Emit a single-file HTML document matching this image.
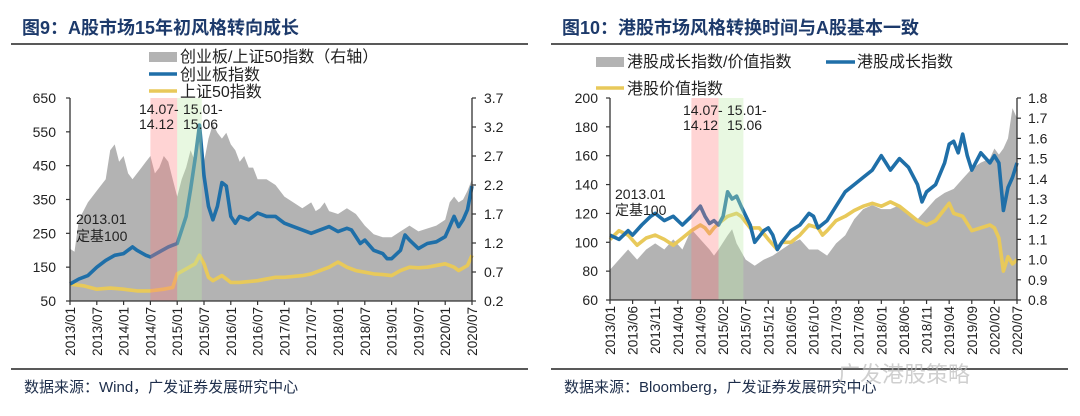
<!DOCTYPE html>
<html><head><meta charset="utf-8">
<style>
html,body{margin:0;padding:0;background:#fff;}
svg{display:block;font-family:"Liberation Sans","Noto Sans CJK SC",sans-serif;}
</style></head>
<body>
<svg id="root" width="1080" height="416" viewBox="0 0 1080 416">
  <text x="22" y="34" font-size="18" font-weight="bold" fill="#1d3a6b">图9：A股市场15年初风格转向成长</text>
  <line x1="11" y1="44" x2="528" y2="44" stroke="#222" stroke-width="1.5"/>
  <text x="562" y="34" font-size="18" font-weight="bold" fill="#1d3a6b">图10：港股市场风格转换时间与A股基本一致</text>
  <line x1="551" y1="44" x2="1068" y2="44" stroke="#222" stroke-width="1.5"/>
  <line x1="11" y1="369" x2="528" y2="369" stroke="#222" stroke-width="1.5"/>
  <line x1="551" y1="369" x2="1068" y2="369" stroke="#222" stroke-width="1.5"/>
  <text x="24" y="392" font-size="15" fill="#1d2d4a">数据来源：Wind，广发证券发展研究中心</text>
  <text x="564" y="392" font-size="15" fill="#1d2d4a">数据来源：Bloomberg，广发证券发展研究中心</text>
  <text x="838" y="382" font-size="22" fill="#bbb" opacity="0.7">广发港股策略</text>

  <rect x="149" y="52" width="28" height="10" fill="#b3b3b3"/>
  <text x="180" y="62" font-size="16" fill="#222">创业板/上证50指数（右轴）</text>
  <line x1="149" y1="74" x2="177" y2="74" stroke="#1f6fa8" stroke-width="3.5"/>
  <text x="180" y="80" font-size="16" fill="#222">创业板指数</text>
  <line x1="149" y1="91" x2="177" y2="91" stroke="#e8c95a" stroke-width="3.5"/>
  <text x="180" y="97" font-size="16" fill="#222">上证50指数</text>

  <rect x="596" y="57" width="28" height="10" fill="#b3b3b3"/>
  <text x="627" y="67" font-size="16" fill="#222">港股成长指数/价值指数</text>
  <line x1="826" y1="62" x2="855" y2="62" stroke="#1f6fa8" stroke-width="3.5"/>
  <text x="857" y="67" font-size="16" fill="#222">港股成长指数</text>
  <line x1="596" y1="88" x2="624" y2="88" stroke="#e8c95a" stroke-width="3.5"/>
  <text x="627" y="94" font-size="16" fill="#222">港股价值指数</text>

  <g id="left"></g>
  <g id="right"></g>
</svg>
<script>
const lTicksX = ["2013/01","2013/07","2014/01","2014/07","2015/01","2015/07","2016/01","2016/07","2017/01","2017/07","2018/01","2018/07","2019/01","2019/07","2020/01","2020/07"];
const lTicksY = [50,150,250,350,450,550,650];
const lTicksY2 = [0.2,0.7,1.2,1.7,2.2,2.7,3.2,3.7];
const lRatioM = [0,1,2,4,6,8,9,10,11,12,13,14,16,17,18,19,20,21,22,23,24,25,26,27,28,29,30,31,32,33,34,35,36,37,38,39,40,41,42,44,46,48,50,52,54,55,56,57,58,60,62,64,66,68,70,72,74,76,78,80,82,84,85,86,87,88,89,90];
const lRatioV = [1.1,1.05,1.6,1.9,2.1,2.3,2.8,2.9,2.6,2.7,2.4,2.3,2.5,2.6,2.7,2.4,2.5,2.7,2.6,2.3,2.0,2.3,2.5,2.8,2.6,3.0,2.6,3.0,3.25,3.1,3.0,3.1,2.9,2.8,2.6,2.7,2.5,2.5,2.3,2.3,2.2,2.0,1.9,1.8,1.9,1.75,1.8,1.9,1.75,1.7,1.8,1.7,1.5,1.35,1.3,1.3,1.4,1.5,1.4,1.45,1.5,1.6,1.9,2.0,1.9,1.95,2.1,2.3];
const lBlueM = [0,2,4,6,8,10,12,14,15,17,18,20,22,23,24,25,26,27,28,29,30,31,32,33,34,35,36,37,38,40,42,44,46,47,48,50,52,54,56,58,60,62,63,64,65,66,68,70,71,72,74,75,76,78,80,82,84,85,86,87,88,89,90];
const lBlueV = [100,115,125,150,170,185,190,210,200,185,180,195,210,215,220,260,300,380,470,570,420,330,290,330,400,390,300,280,300,290,310,300,300,290,280,270,260,250,260,270,255,265,260,240,220,230,200,190,175,175,200,245,230,205,220,225,240,270,300,270,290,320,390];
const lYelM = [0,3,6,9,12,15,18,21,23,24,26,28,29,30,31,32,34,36,38,42,46,48,52,54,58,60,62,64,66,68,70,72,74,76,78,80,84,86,87,89,90];
const lYelV = [100,95,85,88,85,80,80,85,90,130,145,160,185,160,120,110,125,105,105,110,120,120,125,130,150,165,150,140,135,130,128,125,140,150,148,150,160,150,140,155,185];
const lBands = [[18,24,"pink"],[24,29.5,"green"]];

const rTicksX = ["2013/01","2013/06","2013/11","2014/04","2014/09","2015/02","2015/07","2015/12","2016/05","2016/10","2017/03","2017/08","2018/01","2018/06","2018/11","2019/04","2019/09","2020/02","2020/07"];
const rTicksY = [60,80,100,120,140,160,180,200];
const rTicksY2 = [0.8,0.9,1.0,1.1,1.2,1.3,1.4,1.5,1.6,1.7,1.8];
const rRatioM = [0,2,4,6,8,10,12,14,16,18,20,22,23,24,26,27,28,30,32,34,36,38,40,42,44,46,48,50,52,54,56,58,60,62,64,66,68,70,72,74,76,78,80,82,84,85,86,87,88,89,90];
const rRatioV = [0.95,1.0,1.05,1.0,1.05,1.08,1.05,1.1,1.05,1.15,1.1,1.05,1.02,1.05,1.12,1.15,1.08,1.0,0.97,1.0,1.02,1.05,1.08,1.1,1.05,1.05,1.02,1.08,1.12,1.2,1.25,1.27,1.25,1.25,1.27,1.22,1.2,1.25,1.3,1.33,1.35,1.4,1.45,1.48,1.5,1.55,1.52,1.55,1.6,1.75,1.7];
const rBlueM = [0,2,4,5,7,9,10,12,14,16,18,20,21,22,23,24,25,26,27,28,29,31,32,34,35,36,37,38,40,42,44,45,46,48,50,52,54,56,58,60,61,62,64,66,68,69,70,72,74,75,76,77,78,79,80,82,84,85,86,87,88,89,90];
const rBlueV = [105,102,108,105,112,118,120,115,118,112,118,125,118,113,115,112,118,135,130,132,125,112,100,108,110,105,95,100,108,112,120,118,110,115,125,135,140,145,150,160,155,150,158,152,140,128,135,140,155,168,170,162,175,160,150,162,155,160,155,122,138,145,155];
const rYelM = [0,2,4,6,8,10,12,14,16,18,20,21,22,23,24,26,28,29,31,33,35,37,38,40,42,44,46,47,48,50,52,54,56,58,60,62,64,66,68,70,72,74,75,76,78,80,82,84,85,86,87,88,89,90];
const rYelV = [102,108,105,98,103,105,102,98,103,108,112,110,106,110,113,118,120,118,110,110,102,95,100,100,105,112,110,105,108,115,118,122,125,127,125,128,125,120,115,112,115,123,127,120,118,108,110,112,110,103,80,90,85,88];
const rBands = [[18,24,"pink"],[24,29.5,"green"]];

const NS = "http://www.w3.org/2000/svg";
function mk(parent, tag, attrs){
  const e = document.createElementNS(NS, tag);
  for (const k in attrs) e.setAttribute(k, attrs[k]);
  parent.appendChild(e);
  return e;
}

function drawChart(g, cfg){
  const {x0,x1,yTop,yBot,yMin,yMax,y2Min,y2Max,months} = cfg;
  const xs = m => x0 + m*(x1-x0)/months;
  const ys = v => yBot - (v-yMin)*(yBot-yTop)/(yMax-yMin);
  const ys2 = v => yBot - (v-y2Min)*(yBot-yTop)/(y2Max-y2Min);

  let d = "M"+xs(cfg.ratioM[0])+","+yBot;
  cfg.ratioM.forEach((m,i)=>{ d += " L"+xs(m).toFixed(1)+","+ys2(cfg.ratioV[i]).toFixed(1); });
  d += " L"+xs(cfg.ratioM[cfg.ratioM.length-1])+","+yBot+" Z";
  const area = mk(g,"path",{d:d, fill:"#b3b3b3"});
  
  

  const line = (M,V,color,name)=>{
    let p = "";
    M.forEach((m,i)=>{ p += (i?" L":"M")+xs(m).toFixed(1)+","+ys(V[i]).toFixed(1); });
    const el = mk(g,"path",{d:p, fill:"none", stroke:color, "stroke-width":3.6, "stroke-linejoin":"round"});
    
    
  };
  line(cfg.yelM,cfg.yelV,"#e8c95a",cfg.prefix+"value-line");
  line(cfg.blueM,cfg.blueV,"#1f6fa8",cfg.prefix+"growth-line");

  cfg.bands.forEach(b=>{
    const r = mk(g,"rect",{x:xs(b[0]), y:yTop, width:xs(b[1])-xs(b[0]), height:yBot-yTop,
      fill: b[2]==="pink" ? "rgba(255,120,120,0.32)" : "rgba(190,235,170,0.35)"});
    
    
  });

  const ax = mk(g,"path",{d:`M${x0},${yTop} L${x0},${yBot} L${x1},${yBot} M${x1},${yTop} L${x1},${yBot}`, fill:"none", stroke:"#333", "stroke-width":1.3});
  
  

  cfg.ticksY.forEach(v=>{
    const y = ys(v);
    mk(g,"line",{x1:x0-4,y1:y,x2:x0,y2:y,stroke:"#333","stroke-width":1.2});
    const t = mk(g,"text",{x:cfg.lblL, y:y+5, "font-size":14, "text-anchor":"end", fill:"#222"});
    t.textContent = v;
    
    
  });
  cfg.ticksY2.forEach(v=>{
    const y = ys2(v);
    mk(g,"line",{x1:x1,y1:y,x2:x1+4,y2:y,stroke:"#333","stroke-width":1.2});
    const t = mk(g,"text",{x:cfg.lblR, y:y+5, "font-size":14, fill:"#222"});
    t.textContent = v.toFixed(1);
    
    
  });
  const n = cfg.ticksX.length;
  cfg.ticksX.forEach((lab,i)=>{
    const x = x0 + i*(x1-x0)/(n-1);
    mk(g,"line",{x1:x,y1:yBot,x2:x,y2:yBot+4,stroke:"#333","stroke-width":1.2});
    const t = mk(g,"text",{x:0,y:0,"font-size":13.5,"text-anchor":"end",fill:"#222",
      transform:`translate(${x+5},${yBot+6}) rotate(-90)`});
    t.textContent = lab;
    
    
  });
  cfg.notes.forEach(nt=>{
    const t = mk(g,"text",{x:nt[0],y:nt[1],"font-size":14,fill:"#222"});
    t.textContent = nt[2];
    
    
  });
}

drawChart(document.getElementById('left'), {
  prefix:"left-", x0:70, x1:472, yTop:98, yBot:301, yMin:50, yMax:650, y2Min:0.2, y2Max:3.7, months:90,
  ratioM:lRatioM, ratioV:lRatioV, blueM:lBlueM, blueV:lBlueV, yelM:lYelM, yelV:lYelV, bands:lBands,
  ticksX:lTicksX, ticksY:lTicksY, ticksY2:lTicksY2, lblL:56, lblR:484,
  notes:[[139,114,"14.07-"],[139,129,"14.12"],[183,114,"15.01-"],[183,129,"15.06"],[76,224,"2013.01"],[76,241,"定基100"]]
});
drawChart(document.getElementById('right'), {
  prefix:"right-", x0:610, x1:1017, yTop:98, yBot:300, yMin:60, yMax:200, y2Min:0.8, y2Max:1.8, months:90,
  ratioM:rRatioM, ratioV:rRatioV, blueM:rBlueM, blueV:rBlueV, yelM:rYelM, yelV:rYelV, bands:rBands,
  ticksX:rTicksX, ticksY:rTicksY, ticksY2:rTicksY2, lblL:598, lblR:1028,
  notes:[[683,115,"14.07-"],[683,130,"14.12"],[727,115,"15.01-"],[727,130,"15.06"],[615,199,"2013.01"],[615,215,"定基100"]]
});
</script>
</body></html>
